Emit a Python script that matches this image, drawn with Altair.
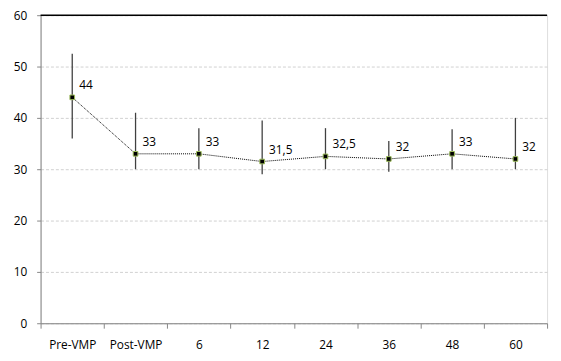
import altair as alt
import pandas as pd

categories = ["Pre-VMP", "Post-VMP", "6", "12", "24", "36", "48", "60"]
values = [44, 33, 33, 31.5, 32.5, 32, 33, 32]
labels = ["44", "33", "33", "31,5", "32,5", "32", "33", "32"]
err_low = [36, 30, 30, 29, 30, 29.5, 30, 30]
err_high = [52.5, 41, 38, 39.5, 38, 35.5, 37.8, 40]

df = pd.DataFrame({"cat": categories, "val": values, "lab": labels,
                   "lo": err_low, "hi": err_high})

FONT = "Open Sans"
xenc = alt.X("cat:O", sort=categories, title=None,
             scale=alt.Scale(paddingInner=0, paddingOuter=0),
             axis=alt.Axis(labelAngle=0, tickBand="extent", domainColor="#868686",
                           tickColor="#868686", tickSize=5, labelPadding=12,
                           labelFont=FONT, labelFontSize=12, labelColor="#000000",
                           grid=False))
yscale = alt.Scale(domain=[0, 60])
yenc = alt.Y("val:Q", scale=yscale, title=None,
             axis=alt.Axis(values=[0, 10, 20, 30, 40, 50, 60], domainColor="#868686",
                           tickColor="#868686", tickSize=4, labelPadding=10,
                           labelFont=FONT, labelFontSize=12, labelColor="#000000",
                           grid=True, gridColor="#d0d0d0", gridDash=[3, 2],
                           gridWidth=1))

base = alt.Chart(df)

err = base.mark_rule(color="#404040", strokeWidth=1.3).encode(
    x=xenc, y=alt.Y("lo:Q", scale=yscale), y2="hi:Q")
line = base.mark_line(color="#000000", strokeWidth=1, strokeDash=[1, 1]).encode(
    x=xenc, y=yenc)
pts = base.mark_point(shape="square", filled=True, fill="#000000", stroke="#9BBB59",
                      strokeWidth=1, size=22, opacity=1).encode(x=xenc, y=yenc)
txt = base.mark_text(align="left", baseline="middle", dx=7, dy=-12, font=FONT,
                     fontSize=12, color="#000000").encode(x=xenc, y=yenc, text="lab:N")
top = alt.Chart(pd.DataFrame({"v": [60]})).mark_rule(color="#000000", strokeWidth=1.5).encode(
    y=alt.Y("v:Q", scale=yscale))

chart = alt.layer(line, err, pts, txt, top).properties(
    width=513, height=312,
    autosize=alt.AutoSizeParams(type="none"),
    padding={"left": 33, "top": 5, "right": 6, "bottom": 40},
).configure_view(stroke="#868686", strokeWidth=1.2).configure(background="#ffffff")

chart.save("out.html", embed_options={"renderer": "svg", "actions": False})
